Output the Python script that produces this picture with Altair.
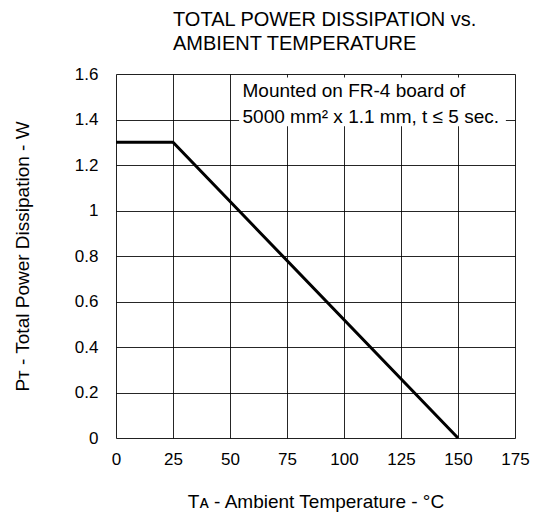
import altair as alt
import pandas as pd

temps = [0, 25, 150]
power = [1.3, 1.3, 0.0]

x_ticks = [0, 25, 50, 75, 100, 125, 150, 175]
y_ticks = [0, 0.2, 0.4, 0.6, 0.8, 1.0, 1.2, 1.4, 1.6]

note_lines = ["Mounted on FR-4 board of", "5000 mm\u00b2 x 1.1 mm, t \u2264 5 sec."]
note_x = [55.5, 55.5]
note_y = [1.525, 1.41]
box_x = [54.0]
box_x2 = [171.0]
box_y = [1.585]
box_y2 = [1.37]

FONT = "Liberation Sans"

df = pd.DataFrame({"t": temps, "p": power})
notes = pd.DataFrame({"x": note_x, "y": note_y, "txt": note_lines})
box = pd.DataFrame({"x": box_x, "x2": box_x2, "y": box_y, "y2": box_y2})

xscale = alt.Scale(domain=[0, 175], nice=False, zero=False)
yscale = alt.Scale(domain=[0, 1.6], nice=False)

xaxis = alt.Axis(values=x_ticks, title="T\u1d00 - Ambient Temperature - \u00b0C",
                 grid=True, gridColor="#000", gridWidth=1, gridOpacity=0.85,
                 domain=False, ticks=False, labelPadding=13, titlePadding=25,
                 labelFontSize=17, titleFontSize=19, labelFont=FONT, titleFont=FONT,
                 labelColor="#000", titleColor="#000", titleFontWeight="normal",
                 labelFlush=False)
yaxis = alt.Axis(values=y_ticks, title="P\u1d1b - Total Power Dissipation - W",
                 grid=True, gridColor="#000", gridWidth=1, gridOpacity=0.85,
                 domain=False, ticks=False, labelPadding=18, titlePadding=42,
                 labelFontSize=17, titleFontSize=19, labelFont=FONT, titleFont=FONT,
                 labelColor="#000", titleColor="#000", titleFontWeight="normal",
                 labelExpr="datum.value == 0 ? '0' : datum.value == 1 ? '1' : format(datum.value, '.1f')",
                 labelFlush=False)

base_grid = alt.Chart(df).mark_line(opacity=0).encode(
    x=alt.X("t:Q", scale=xscale, axis=xaxis),
    y=alt.Y("p:Q", scale=yscale, axis=yaxis),
)

box_layer = alt.Chart(box).mark_rect(color="white").encode(
    x=alt.X("x:Q", scale=xscale), x2="x2:Q",
    y=alt.Y("y:Q", scale=yscale), y2="y2:Q",
)

text_layer = alt.Chart(notes).mark_text(align="left", baseline="middle", fontSize=19,
                                         font=FONT, color="#000").encode(
    x=alt.X("x:Q", scale=xscale), y=alt.Y("y:Q", scale=yscale), text="txt:N"
)

line_layer = alt.Chart(df).mark_line(color="#000", strokeWidth=3).encode(
    x=alt.X("t:Q", scale=xscale), y=alt.Y("p:Q", scale=yscale)
)

chart = alt.layer(base_grid, box_layer, text_layer, line_layer).properties(
    width=399, height=364,
    title=alt.TitleParams(["TOTAL POWER DISSIPATION vs.", "AMBIENT TEMPERATURE"],
                          anchor="start", frame="group", dx=57, fontSize=20, font=FONT,
                          fontWeight="normal", color="#000", offset=11, lineHeight=24),
    autosize=alt.AutoSizeParams(type="none"),
    padding={"left": 108, "top": 66, "right": 33, "bottom": 75},
).configure_view(stroke="#000", strokeWidth=2).configure(background="white")

chart.save("out.html", embed_options={"renderer": "svg", "actions": False})
